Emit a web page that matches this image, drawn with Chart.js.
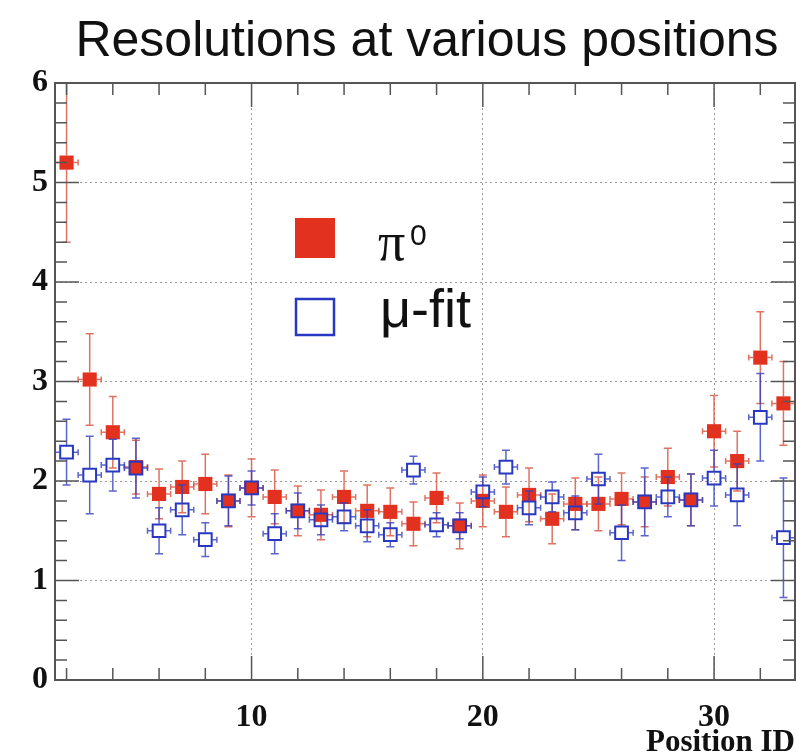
<!DOCTYPE html>
<html>
<head>
<meta charset="utf-8">
<script src="https://cdn.jsdelivr.net/npm/chart.js@4.4.1/dist/chart.umd.min.js"></script>
<style>
  html, body { margin: 0; padding: 0; background: #fff; }
  #wrap { position: relative; width: 796px; height: 755px; }
</style>
</head>
<body>
<div id="wrap"><canvas id="resChart" width="796" height="755"></canvas></div>
<script>
// values (position ID -> resolution)
const positions = [2, 3, 4, 5, 6, 7, 8, 9, 10, 11, 12, 13, 14, 15, 16, 17,
                   18, 19, 20, 21, 22, 23, 24, 25, 26, 27, 28, 29, 30, 31, 32, 33];
const pi0Values = [5.20, 3.02, 2.49, 2.14, 1.87, 1.94, 1.97, 1.80, 1.93, 1.84, 1.70, 1.66, 1.84, 1.70, 1.69, 1.57,
                   1.83, 1.55, 1.80, 1.69, 1.86, 1.62, 1.77, 1.77, 1.82, 1.79, 2.04, 1.81, 2.50, 2.20, 3.24, 2.78];
const pi0Errors = [0.80, 0.46, 0.36, 0.27, 0.25, 0.26, 0.30, 0.26, 0.29, 0.27, 0.25, 0.25, 0.26, 0.26, 0.24, 0.22,
                   0.25, 0.23, 0.26, 0.25, 0.27, 0.25, 0.26, 0.27, 0.26, 0.25, 0.29, 0.26, 0.36, 0.30, 0.46, 0.42];
const muValues  = [2.29, 2.06, 2.16, 2.13, 1.50, 1.71, 1.41, 1.80, 1.93, 1.47, 1.70, 1.61, 1.64, 1.55, 1.46, 2.11,
                   1.56, 1.55, 1.89, 2.14, 1.73, 1.84, 1.68, 2.02, 1.48, 1.79, 1.84, 1.81, 2.03, 1.86, 2.64, 1.43];
const muErrors  = [0.33, 0.39, 0.26, 0.30, 0.23, 0.25, 0.17, 0.25, 0.17, 0.20, 0.18, 0.15, 0.14, 0.16, 0.12, 0.14,
                   0.12, 0.13, 0.15, 0.17, 0.17, 0.15, 0.17, 0.25, 0.28, 0.34, 0.20, 0.26, 0.28, 0.31, 0.44, 0.60];
const xTickLabels = [10, 20, 30];
const yTickLabels = [0, 1, 2, 3, 4, 5, 6];

const TITLE = 'Resolutions at various positions';
const RED = '#e2321f';
const BLUE = '#2838c0';
const HALF_BIN = 0.5;
const HALF_MARK = 7;

// ROOT-style error bars, drawn just before each dataset's markers
const errorBars = {
  id: 'errorBars',
  beforeDatasetDraw(chart, args) {
    const ds = chart.data.datasets[args.index];
    const { ctx, chartArea: a, scales: { x, y } } = chart;
    ctx.save();
    ctx.beginPath();
    ctx.rect(a.left, a.top, a.right - a.left, a.bottom - a.top);
    ctx.clip();
    ctx.strokeStyle = ds.barColor;
    ctx.lineWidth = 1.5;
    ds.data.forEach((p, i) => {
      const px = x.getPixelForValue(p.x);
      const py = y.getPixelForValue(p.y);
      const top = y.getPixelForValue(p.y + ds.errors[i]);
      const bot = y.getPixelForValue(p.y - ds.errors[i]);
      const l = x.getPixelForValue(p.x - HALF_BIN);
      const r = x.getPixelForValue(p.x + HALF_BIN);
      ctx.beginPath();
      ctx.moveTo(px, py - HALF_MARK); ctx.lineTo(px, top);
      ctx.moveTo(px, py + HALF_MARK); ctx.lineTo(px, bot);
      ctx.moveTo(px - HALF_MARK, py); ctx.lineTo(l, py);
      ctx.moveTo(px + HALF_MARK, py); ctx.lineTo(r, py);
      ctx.moveTo(px - 4, top); ctx.lineTo(px + 4, top);
      ctx.moveTo(px - 4, bot); ctx.lineTo(px + 4, bot);
      ctx.moveTo(l, py - 3); ctx.lineTo(l, py + 3);
      ctx.moveTo(r, py - 3); ctx.lineTo(r, py + 3);
      ctx.stroke();
    });
    ctx.restore();
  }
};

// frame with inside ticks, title and legend
const rootFrame = {
  id: 'rootFrame',
  afterDraw(chart) {
    const { ctx, chartArea: a, scales: { x, y } } = chart;
    ctx.save();
    ctx.strokeStyle = '#555';
    ctx.lineWidth = 2;
    ctx.strokeRect(a.left, a.top, a.right - a.left, a.bottom - a.top);

    ctx.lineWidth = 1.5;
    ctx.beginPath();
    for (let v = 2; v < x.max; v += 2) {
      const px = x.getPixelForValue(v);
      const len = v % 10 === 0 ? 24 : 12;
      ctx.moveTo(px, a.bottom); ctx.lineTo(px, a.bottom - len);
      ctx.moveTo(px, a.top); ctx.lineTo(px, a.top + len);
    }
    for (let k = 0; k <= 30; k++) {
      const py = y.getPixelForValue(k / 5);
      const len = k % 5 === 0 ? 24 : 12;
      ctx.moveTo(a.left, py); ctx.lineTo(a.left + len, py);
      ctx.moveTo(a.right, py); ctx.lineTo(a.right - len, py);
    }
    ctx.stroke();

    // title
    ctx.fillStyle = '#111';
    ctx.font = '50px "Liberation Sans", Arial, sans-serif';
    ctx.textAlign = 'center';
    ctx.textBaseline = 'alphabetic';
    ctx.fillText(TITLE, 427, 56);

    // legend
    const [pi, mu] = chart.data.datasets;
    ctx.fillStyle = pi.backgroundColor;
    ctx.fillRect(295, 218, 40, 40);
    ctx.strokeStyle = mu.borderColor;
    ctx.lineWidth = 2.5;
    ctx.strokeRect(296, 299, 38, 36);

    ctx.fillStyle = '#111';
    ctx.textAlign = 'left';
    ctx.font = '54px "Liberation Serif", serif';
    ctx.fillText('π', 378, 260);
    ctx.font = '30px "Liberation Sans", Arial, sans-serif';
    ctx.fillText('0', 410, 245);
    ctx.font = '54px "Liberation Sans", Arial, sans-serif';
    ctx.fillText('μ-fit', 380, 327);
    ctx.restore();
  }
};

const tickFont = { family: '"Liberation Serif", "Times New Roman", serif', size: 32, weight: 'bold' };

new Chart(document.getElementById('resChart'), {
  type: 'scatter',
  data: {
    datasets: [
      {
        label: 'π0',
        data: positions.map((p, i) => ({ x: p, y: pi0Values[i] })),
        errors: pi0Errors,
        barColor: 'rgba(214, 80, 60, 0.8)',
        pointStyle: 'rect',
        pointRadius: 10,
        pointHoverRadius: 10,
        backgroundColor: RED,
        borderColor: RED,
        borderWidth: 0,
        order: 2
      },
      {
        label: 'μ-fit',
        data: positions.map((p, i) => ({ x: p, y: muValues[i] })),
        errors: muErrors,
        barColor: 'rgba(50, 62, 190, 0.8)',
        pointStyle: 'rect',
        pointRadius: 9,
        pointHoverRadius: 9,
        backgroundColor: 'rgba(0,0,0,0)',
        borderColor: BLUE,
        borderWidth: 2,
        order: 1
      }
    ]
  },
  options: {
    responsive: false,
    animation: false,
    layout: { autoPadding: false, padding: { top: 83, right: 1, left: 0, bottom: 0 } },
    plugins: {
      legend: { display: false },
      title: { display: false },
      tooltip: { enabled: false }
    },
    scales: {
      x: {
        type: 'linear',
        min: 1.5,
        max: 33.5,
        afterBuildTicks: (scale) => { scale.ticks = xTickLabels.map(v => ({ value: v })); },
        afterFit: (scale) => { scale.height = 75; },
        ticks: { font: tickFont, color: '#111', padding: 19, maxRotation: 0 },
        grid: { color: '#9a9a9a', lineWidth: 1, drawTicks: false },
        border: { display: false, dash: [2, 3] },
        title: {
          display: true,
          text: 'Position ID',
          align: 'end',
          color: '#111',
          font: { family: '"Liberation Serif", "Times New Roman", serif', size: 31, weight: 'bold', lineHeight: 1 },
          padding: { top: 0, bottom: -3 }
        }
      },
      y: {
        min: 0,
        max: 6,
        afterBuildTicks: (scale) => { scale.ticks = yTickLabels.map(v => ({ value: v })); },
        afterFit: (scale) => { scale.width = 55; },
        ticks: { font: tickFont, color: '#111', padding: 7 },
        grid: { color: '#9a9a9a', lineWidth: 1, drawTicks: false },
        border: { display: false, dash: [2, 3] }
      }
    }
  },
  plugins: [errorBars, rootFrame]
});
</script>
</body>
</html>
